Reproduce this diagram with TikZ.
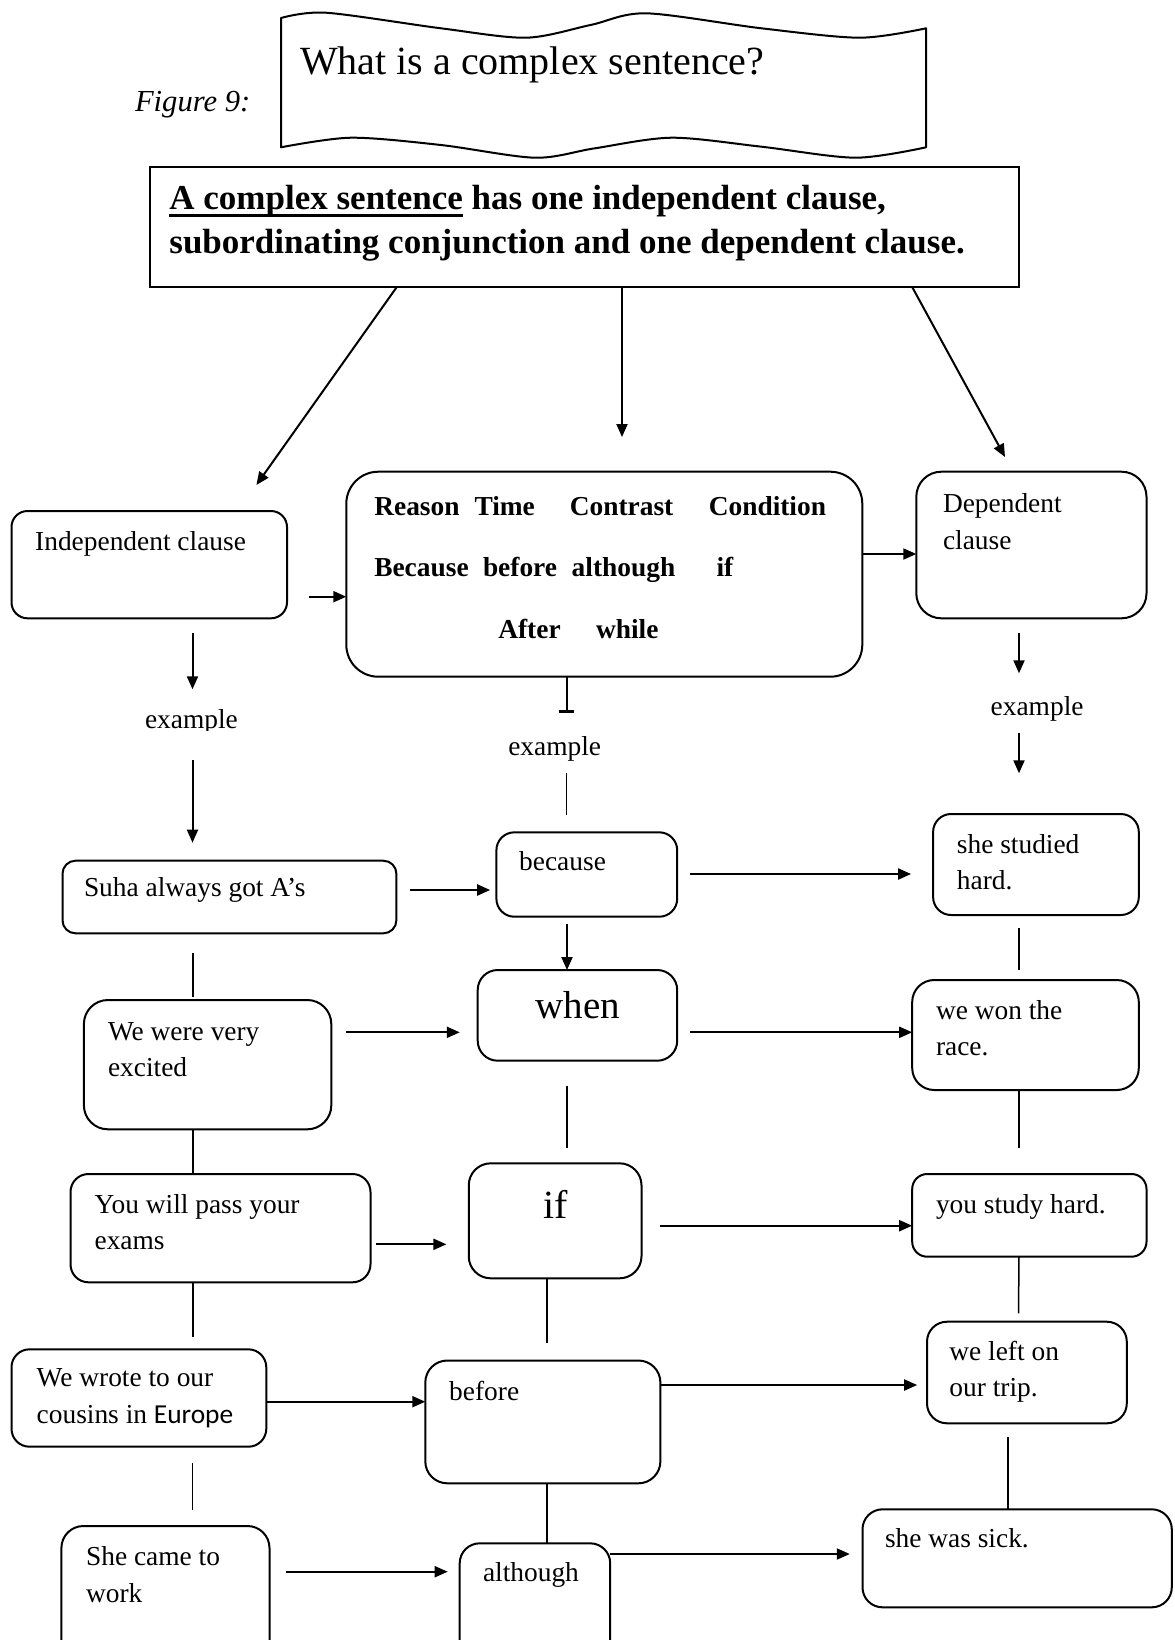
\documentclass[tikz,border=0pt]{standalone}
\usepackage{fontspec}
\setmainfont{Liberation Serif}
\newfontfamily\calib{Carlito}
\usetikzlibrary{arrows.meta}
\newcommand\mybox[6]{\node[bx, rounded corners=#6, minimum width={(#4-#2)*0.5pt}, minimum height={(#5-#3)*0.5pt}] (#1) at ({(#2+#4)/2},{(#3+#5)/2}) {};}
\newcommand\twol[2]{\vtop{\baselineskip=18.3pt\hbox{#1}\hbox{#2}}}
\newcommand\myul[1]{\setbox0\hbox{#1}\rlap{\raisebox{-3.9pt}{\rule{\wd0}{1.4pt}}}\box0\relax}
\begin{document}
\begin{tikzpicture}[x=0.5pt,y=-0.5pt,
  bx/.style={draw, line width=1pt, inner sep=0pt, outer sep=0pt},
  txt/.style={anchor=base west, inner sep=0pt, outer sep=0pt, font=\fontsize{13.7}{16.4}\selectfont},
  bld/.style={txt, font=\fontsize{13.7}{16.4}\selectfont\bfseries},
  arr/.style={line width=1pt, -{Triangle[length=6.5pt,width=5.5pt]}},
  ln/.style={line width=0.75pt}]
\useasboundingbox (0,0) rectangle (1174,1640);
\clip (0,0) rectangle (1174,1640);

% wavy title shape
\draw[line width=1pt, line join=round] (281,147.3) -- (281,18)
  -- plot[smooth] coordinates {(281,18) (326,12.7) (441,28.3) (526,37.7) (590.5,25) (646,13.3) (761.5,28.3) (859.7,37.7) (926,28.3)}
  -- (926,147.3)
  -- plot[smooth] coordinates {(926,147.3) (855.5,157.7) (761.5,146.7) (671.7,137.7) (594.8,148.3) (535,157.7) (441,145) (351,137.7) (281,147.3)}
  -- cycle;
\node[txt, font=\fontsize{20}{24}\selectfont] (title) at (300,74) {What is a complex sentence?};
\node[txt, font=\fontsize{15.3}{18}\selectfont\itshape] (fig) at (135,111.7) {Figure 9:};

% boxes
\mybox{bdef}{150.4}{166.7}{1019}{286.7}{0pt}
\mybox{bind}{11.5}{511}{287}{618.3}{8pt}
\mybox{bconj}{346.3}{471.7}{862.3}{676.7}{16pt}
\mybox{bdep}{916.3}{471.7}{1146.5}{618.3}{12.5pt}
\mybox{bsuha}{62.5}{860.7}{396.4}{933.3}{6.5pt}
\mybox{bbec}{496.4}{832.3}{677.2}{916.7}{9pt}
\mybox{bstud}{933.1}{814}{1138.8}{915}{9pt}
\mybox{bexc}{83.9}{1000}{331.3}{1129.3}{12pt}
\mybox{bwhen}{477.7}{970}{677.2}{1060.7}{10pt}
\mybox{bwon}{912.2}{980}{1138.8}{1090}{11pt}
\mybox{bpass}{70.5}{1174}{370.5}{1282.3}{9pt}
\mybox{bif}{468.75}{1163.3}{641.5}{1278.3}{11pt}
\mybox{bstudy}{912.2}{1174}{1146.5}{1256.7}{7.5pt}
\mybox{bwrote}{11.5}{1349.3}{266.3}{1446.7}{9pt}
\mybox{bbefore}{425.3}{1360.5}{660.4}{1483.3}{11pt}
\mybox{bleft}{927}{1321.7}{1126.8}{1423.3}{10pt}
\mybox{bsick}{862.5}{1509.3}{1171.8}{1607.3}{10pt}
\mybox{bcame}{61.4}{1526}{269.5}{1690}{11pt}
\mybox{balth}{459.7}{1543.3}{610.2}{1690}{10pt}

% texts
\node[txt, font=\fontsize{17.5}{21}\selectfont\bfseries] (tdef1) at (169.4,209) {\myul{A complex sentence} has one independent clause,};
\node[txt, font=\fontsize{17.5}{21}\selectfont\bfseries] (tdef2) at (169.4,253) {subordinating conjunction and one dependent clause.};
\node[txt] (tind) at (35.2,550) {Independent clause};
\node[txt] (tdep) at (943,512.7) {\twol{Dependent}{clause}};
\node[bld] (w1) at (374.3,515) {Reason};
\node[bld] (w2) at (474.5,515) {Time};
\node[bld] (w3) at (569.8,515) {Contrast};
\node[bld] (w4) at (708.8,515) {Condition};
\node[bld] (w5) at (374.3,576.7) {Because};
\node[bld] (w6) at (483,576.7) {before};
\node[bld] (w7) at (571.7,576.7) {although};
\node[bld] (w8) at (716.6,576.7) {if};
\node[bld] (w9) at (498.3,638.3) {After};
\node[bld] (w10) at (596,638.3) {while};
\begin{scope}
\clip (100,690) rectangle (300,730.5);
\node[txt] (ex1) at (145,728.3) {example};
\end{scope}
\node[txt] (ex2) at (508.3,755) {example};
\node[txt] (ex3) at (990.7,715) {example};
\node[txt] (tsuha) at (84,896.7) {Suha always got A’s};
\node[txt] (tbec) at (519.2,870) {because};
\node[txt] (tstud) at (956.9,853.3) {\twol{she studied}{hard.}};
\node[txt] (texc) at (108,1040) {\twol{We were very}{excited}};
\node[txt, anchor=base, font=\fontsize{19.5}{23}\selectfont] (twhen) at (577.7,1018.3) {when};
\node[txt] (twon) at (936,1019.3) {\twol{we won the}{race.}};
\node[txt] (tpass) at (94.6,1213.3) {\twol{You will pass your}{exams}};
\node[txt, anchor=base, font=\fontsize{20}{24}\selectfont] (tif) at (556,1218.3) {if};
\node[txt] (tstudy) at (936,1213.3) {you study hard.};
\node[txt] (twrote) at (36.7,1386.7) {\twol{We wrote to our}{cousins in {\calib Europe}}};
\node[txt] (tbefore) at (449.2,1400.7) {before};
\node[txt] (tleft) at (949.4,1360) {\twol{we left on}{our trip.}};
\node[txt] (tsick) at (885,1547.5) {she was sick.};
\node[txt] (tcame) at (86.1,1565.5) {\twol{She came to}{work}};
\node[txt] (talth) at (483,1581.7) {although};

% helper coordinates
\coordinate (a1s) at (397,0);
\coordinate (a1e) at (256.4,485);
\coordinate (a2e) at (622,437);
\coordinate (a3s) at (912,0);
\coordinate (a3e) at (1005,457);
\coordinate (a4s) at (309.2,596.7);
\coordinate (a5) at (0,554);
\coordinate (a6s) at (192.5,633.3);
\coordinate (a6e) at (192.5,689.3);
\coordinate (a7s) at (192.5,759.6);
\coordinate (a7e) at (192.5,842.7);
\coordinate (a8) at (566.7,711.7);
\coordinate (a9s) at (566.7,773.3);
\coordinate (a9e) at (566.7,815);
\coordinate (a10s) at (1019,633.3);
\coordinate (a10e) at (1019,673.3);
\coordinate (a11s) at (1019,733.3);
\coordinate (a11e) at (1019,773.3);
\coordinate (a12s) at (409.8,890);
\coordinate (a12e) at (490.2,890);
\coordinate (a13s) at (690,874);
\coordinate (a13e) at (911.1,874);
\coordinate (a14) at (567,924.3);
\coordinate (a15s) at (192.9,953.3);
\coordinate (a15e) at (192.9,996.7);
\coordinate (a16s) at (1019,928.3);
\coordinate (a16e) at (1019,970);
\coordinate (a17s) at (346,1032.3);
\coordinate (a17e) at (459.8,1032.3);
\coordinate (a18) at (690,1032.3);
\coordinate (c1) at (192.9,0);
\coordinate (a20s) at (567,1086);
\coordinate (a20e) at (567,1147.7);
\coordinate (c3) at (1019,0);
\coordinate (a21e) at (1019,1147.7);
\coordinate (a22s) at (376.3,1244.3);
\coordinate (a22e) at (446.4,1244.3);
\coordinate (a23) at (659.8,1225.7);
\coordinate (a24e) at (192.9,1336.7);
\coordinate (c2b) at (547.2,0);
\coordinate (a25e) at (547.2,1343.3);
\coordinate (a26e) at (1018.5,1313.3);
\coordinate (a27) at (0,1401.7);
\coordinate (a28) at (0,1385);
\coordinate (a28e) at (917.2,1385);
\coordinate (a29s) at (192.4,1463.3);
\coordinate (a29e) at (192.4,1510);
\coordinate (c3b) at (1007.8,1436.7);
\coordinate (a32s) at (286,1571.7);
\coordinate (a32e) at (447.7,1571.7);
\coordinate (a33) at (0,1554);
\coordinate (a33e) at (849.8,1554);

% connectors
\draw[arr] (bdef.south -| a1s) -- (a1e);
\draw[arr] (bdef.south -| a2e) -- (a2e);
\draw[arr] (bdef.south -| a3s) -- (a3e);
\draw[arr] (a4s) -- (bconj.west |- a4s);
\draw[arr] (bconj.east |- a5) -- (bdep.west |- a5);
\draw[arr] (a6s) -- (a6e);
\draw[arr] (a7s) -- (a7e);
\draw[line width=1pt] (bconj.south -| a8) -- (a8);
\draw[line width=1.4pt] ([xshift=-3.7pt]a8) -- ([xshift=3.7pt]a8);
\draw[ln] (a9s) -- (a9e);
\draw[arr] (a10s) -- (a10e);
\draw[arr] (a11s) -- (a11e);
\draw[arr] (a12s) -- (a12e);
\draw[arr] (a13s) -- (a13e);
\draw[arr] (bbec.south -| a14) ++(0,7.6) -- (bwhen.north -| a14);
\draw[ln] (a15s) -- (a15e);
\draw[ln] (a16s) -- (a16e);
\draw[arr] (a17s) -- (a17e);
\draw[arr] (a18) -- (bwon.west |- a18);
\draw[ln] (bexc.south -| c1) -- (bpass.north -| c1);
\draw[ln] (a20s) -- (a20e);
\draw[ln] (bwon.south -| c3) -- (a21e);
\draw[arr] (a22s) -- (a22e);
\draw[arr] (a23) -- (bstudy.west |- a23);
\draw[ln] (bpass.south -| c1) -- (a24e);
\draw[ln] (bif.south -| c2b) -- (a25e);
\draw[ln] (bstudy.south -| c3) -- (a26e);
\draw[arr] (bwrote.east |- a27) -- (bbefore.west |- a27);
\draw[arr] (bbefore.east |- a28) -- (a28e);
\draw[ln] (a29s) -- (a29e);
\draw[ln] (bbefore.south -| c2b) -- (balth.north -| c2b);
\draw[ln] (c3b) -- (bsick.north -| c3b);
\draw[arr] (a32s) -- (a32e);
\draw[arr] (balth.east |- a33) -- (a33e);
\end{tikzpicture}
\end{document}
